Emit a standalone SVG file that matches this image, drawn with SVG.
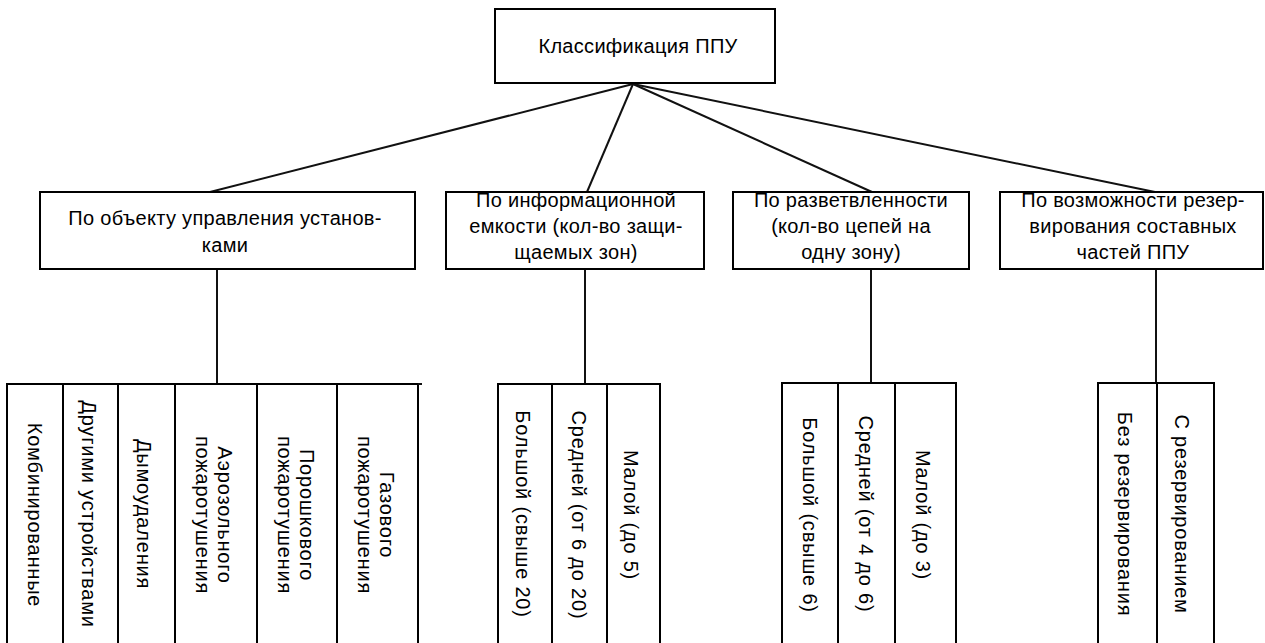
<svg xmlns="http://www.w3.org/2000/svg" width="1265" height="643" viewBox="0 0 1265 643">
<style>
.box{fill:#fff;stroke:#000;stroke-width:2}
.col{fill:#fff;stroke:#000;stroke-width:2}
.ln{stroke:#111;stroke-width:2;fill:none}
text{font-family:"Liberation Sans",Arial,sans-serif;font-size:20px;fill:#000}
.c{text-anchor:middle}
.b{letter-spacing:0.3px}
.v{letter-spacing:0.8px}
</style>
<rect width="1265" height="643" fill="#fff"/>
<g id="connectors">
<line class="ln" x1="633" y1="84" x2="210" y2="192"/>
<line class="ln" x1="633" y1="84" x2="587" y2="192"/>
<line class="ln" x1="633" y1="84" x2="872" y2="192"/>
<line class="ln" x1="633" y1="84" x2="1155" y2="192"/>
<line class="ln" x1="217" y1="269" x2="217" y2="384"/>
<line class="ln" x1="585" y1="269" x2="585" y2="384"/>
<line class="ln" x1="871" y1="269" x2="871" y2="383"/>
<line class="ln" x1="1156" y1="269" x2="1156" y2="383"/>
</g>
<g id="root">
<rect class="box" x="495" y="9" width="280" height="74"/>
<text class="c b" x="638" y="53">Классификация ППУ</text>
</g>
<g id="cat1">
<rect class="box" x="40" y="192" width="375" height="77"/>
<text class="c b" x="225" y="225">По объекту управления установ-</text>
<text class="c b" x="225" y="252">ками</text>
</g>
<g id="cat2">
<rect class="box" x="446" y="192" width="258" height="77"/>
<text class="c b" x="576" y="207">По информационной</text>
<text class="c b" x="576" y="233">емкости (кол-во защи-</text>
<text class="c b" x="576" y="259">щаемых зон)</text>
</g>
<g id="cat3">
<rect class="box" x="733" y="192" width="236" height="77"/>
<text class="c b" x="851" y="207">По разветвленности</text>
<text class="c b" x="851" y="233">(кол-во цепей на</text>
<text class="c b" x="851" y="259">одну зону)</text>
</g>
<g id="cat4">
<rect class="box" x="1000" y="192" width="263" height="77"/>
<text class="c b" x="1133" y="207">По возможности резер-</text>
<text class="c b" x="1133" y="233">вирования составных</text>
<text class="c b" x="1133" y="259">частей ППУ</text>
</g>
<g id="g1-combined">
<rect class="col" x="7" y="384" width="56" height="270"/>
<text class="c v" transform="translate(34.5,515) rotate(90)" y="7">Комбинированные</text>
</g>
<g id="g1-other">
<rect class="col" x="63" y="384" width="55" height="270"/>
<text class="c v" transform="translate(89,514) rotate(90)" y="7">Другими устройствами</text>
</g>
<g id="g1-smoke">
<rect class="col" x="118" y="384" width="57" height="270"/>
<text class="c v" transform="translate(144,514) rotate(90)" y="7">Дымоудаления</text>
</g>
<g id="g1-aerosol">
<rect class="col" x="175" y="384" width="82" height="270"/>
<text class="c v" transform="translate(214,515) rotate(90)"><tspan x="0" y="-4">Аэрозольного</tspan><tspan x="0" y="18">пожаротушения</tspan></text>
</g>
<g id="g1-powder">
<rect class="col" x="257" y="384" width="80" height="270"/>
<text class="c v" transform="translate(296,515) rotate(90)"><tspan x="0" y="-4">Порошкового</tspan><tspan x="0" y="18">пожаротушения</tspan></text>
</g>
<g id="g1-gas">
<rect class="col" x="337" y="384" width="81" height="270"/>
<text class="c v" transform="translate(376,515) rotate(90)"><tspan x="0" y="-4">Газового</tspan><tspan x="0" y="18">пожаротушения</tspan></text>
</g>
<line class="ln" x1="418" y1="384" x2="422" y2="384"/>
<g id="g2-large">
<rect class="col" x="498" y="384" width="54" height="270"/>
<text class="c v" transform="translate(522.5,514) rotate(90)" y="7">Большой (свыше 20)</text>
</g>
<g id="g2-medium">
<rect class="col" x="552" y="384" width="55" height="270"/>
<text class="c v" transform="translate(578.5,515) rotate(90)" y="7">Средней (от 6 до 20)</text>
</g>
<g id="g2-small">
<rect class="col" x="607" y="384" width="53" height="270"/>
<text class="c v" transform="translate(631,515) rotate(90)" y="7">Малой (до 5)</text>
</g>
<g id="g3-large">
<rect class="col" x="782" y="383" width="56" height="270"/>
<text class="c v" transform="translate(810,515) rotate(90)" y="7">Большой (свыше 6)</text>
</g>
<g id="g3-medium">
<rect class="col" x="838" y="383" width="57" height="270"/>
<text class="c v" transform="translate(866,514) rotate(90)" y="7">Средней (от 4 до 6)</text>
</g>
<g id="g3-small">
<rect class="col" x="895" y="383" width="61" height="270"/>
<text class="c v" transform="translate(922.5,515) rotate(90)" y="7">Малой (до 3)</text>
</g>
<g id="g4-without">
<rect class="col" x="1098" y="383" width="59" height="270"/>
<text class="c v" transform="translate(1125,514) rotate(90)" y="7">Без резервирования</text>
</g>
<g id="g4-with">
<rect class="col" x="1157" y="383" width="57" height="270"/>
<text class="c v" transform="translate(1181.5,514) rotate(90)" y="7">С резервированием</text>
</g>
</svg>
